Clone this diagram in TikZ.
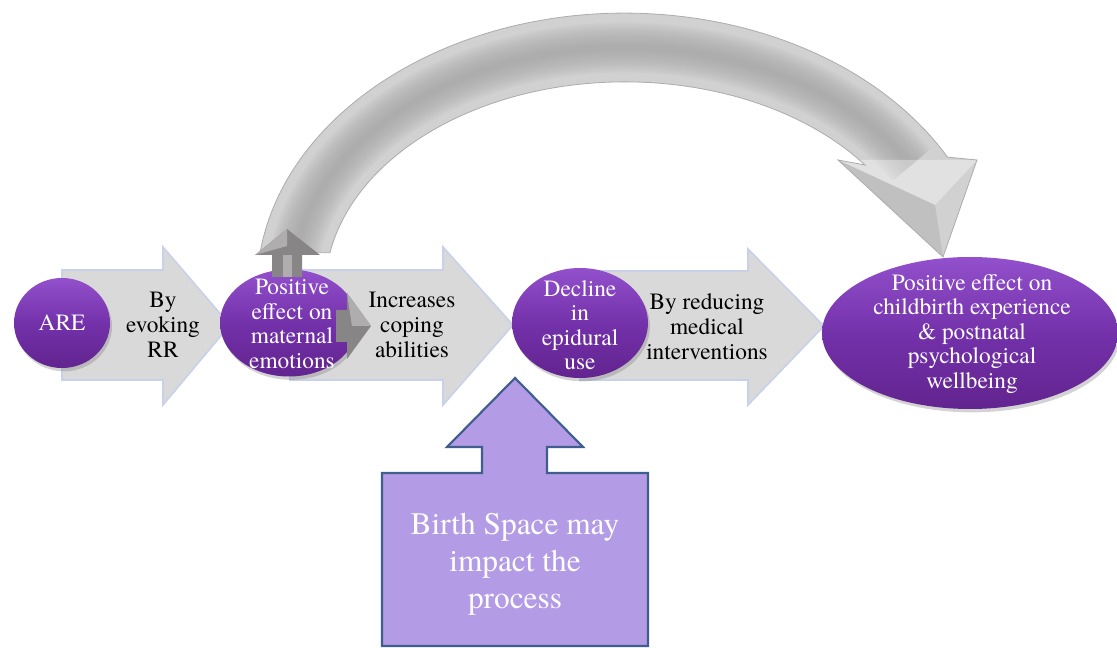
\documentclass[tikz,border=0pt]{standalone}
\usepackage{fontspec}
\setmainfont{TeX Gyre Termes}
\usetikzlibrary{shapes.geometric,shadows}

\definecolor{arrowgray}{HTML}{D9D9D9}
\definecolor{arrowedge}{HTML}{C9D0EA}
\definecolor{plum}{HTML}{7331AA}
\definecolor{plumtop}{HTML}{9350CC}
\definecolor{plumbot}{HTML}{62248F}
\definecolor{bendlight}{HTML}{D2D1D1}
\definecolor{bendmid}{HTML}{A3A1A1}
\definecolor{bendedge}{HTML}{ADABAB}
\definecolor{knob}{HTML}{878585}
\definecolor{knoblight}{HTML}{AFADAD}
\definecolor{lilac}{HTML}{B39BE6}
\definecolor{lilacedge}{HTML}{3F5E8E}

% band of the curved feedback arrow: outer edge, head, inner edge
\def\bandpath{(260,253) arc[start angle=-172.3, end angle=-28.7, x radius=368, y radius=277]
  -- (977,160) -- (943,257) -- (838,160) -- (865,165)
  arc[start angle=-36.9, end angle=-169.7, x radius=300, y radius=208] -- cycle}

\begin{document}
\begin{tikzpicture}[x=0.75pt,y=-0.75pt,
  blockarrow/.style={fill=arrowgray, draw=arrowedge, line width=1.2pt, line join=miter},
  bubble/.style={ellipse, draw=none, inner sep=0pt,
    top color=plumtop, bottom color=plumbot, middle color=plum,
    drop shadow={opacity=0.35, shadow xshift=1.5pt, shadow yshift=-2.5pt}},
  bubbletext/.style={text=white, align=center, inner sep=0pt,
    font=\fontsize{17.5}{18.4}\selectfont},
  steptext/.style={text=black, align=center, inner sep=0pt,
    font=\fontsize{17.5}{18.75}\selectfont},
  spacetext/.style={text=white, align=center, inner sep=0pt,
    font=\fontsize{23.5}{27.75}\selectfont},
]
\useasboundingbox (0,0) rectangle (1117,648);

% grey block arrows of the main chain
\draw[blockarrow] (62,270) -- (163,270) -- (163,247) -- (230,325) -- (163,405) -- (163,380) -- (62,380) -- cycle;
\draw[blockarrow] (290,270) -- (443,270) -- (443,247) -- (513,325) -- (443,405) -- (443,380) -- (290,380) -- cycle;
\draw[blockarrow] (580,271) -- (748,271) -- (748,249) -- (824,326) -- (748,405) -- (748,380) -- (580,380) -- cycle;

% step labels on the block arrows
\node[steptext] (evoke) at (163,325) {By\\evoking\\RR};
\node[steptext] (coping) at (412,325) {Increases\\coping\\abilities};
\node[steptext] (reduce) at (707,327) {By reducing\\medical\\interventions};

% purple stages
\node[bubble, minimum width=72pt, minimum height=67.5pt] (are) at (62,323) {};
\node[bubble, minimum width=103.5pt, minimum height=80.25pt] (emo) at (289,323) {};
\node[bubble, minimum width=102pt, minimum height=82.5pt] (epi) at (580,323) {};
\node[bubble, minimum width=222pt, minimum height=114pt] (out) at (970,333) {};

\node[bubbletext] (areText) at (are.center) {ARE};
\node[bubbletext] (emoText) at (292,324) {Positive\\effect on\\maternal\\emotions};
\node[bubbletext] (epiText) at (580,325) {Decline\\in\\epidural\\use};
\node[bubbletext] (outText) at (972,334) {Positive effect on\\childbirth experience\\\& postnatal\\psychological\\wellbeing};

% curved feedback arrow from the emotions stage to the outcome
\fill[bendlight] \bandpath;
\begin{scope}
  \clip \bandpath;
  \foreach \w in {50,46,...,6}
    \draw[bendmid, line width=\w*0.75pt, opacity=0.09] (625,290) ++(-171:334 and 242.5)
      arc[start angle=-171, end angle=-31, x radius=334, y radius=242.5];
  \fill[white, opacity=0.35] (838,160) -- (977,160) -- (935,205) -- cycle;
  \fill[bendmid, opacity=0.35] (838,160) -- (935,205) -- (943,257) -- cycle;
\end{scope}
\draw[bendedge, line width=0.6pt] \bandpath;

% small grey arrows on the emotions stage
\fill[knob] (272,277) -- (272,255) -- (255,255) -- (287,229) -- (320,255) -- (302,255) -- (302,277) -- cycle;
\fill[knoblight] (255,255) -- (287,229) -- (287,246) -- cycle;
\fill[knoblight] (283,255) rectangle (292,277);
\fill[knob] (336,310) -- (347,310) -- (347,293) -- (371,326) -- (347,359) -- (347,342) -- (336,342) -- cycle;
\fill[knoblight] (347,293) -- (371,326) -- (352,326) -- cycle;

% birth space arrow
\draw[fill=lilac, draw=lilacedge, line width=1.6pt, line join=miter]
  (382,646) -- (382,473) -- (482,473) -- (482,447) -- (447,447) -- (515,378)
  -- (583,447) -- (547,447) -- (547,473) -- (648,473) -- (648,646) -- cycle;
\node[spacetext] (space) at (515,564) {Birth Space may\\impact the\\process};
\end{tikzpicture}
\end{document}
